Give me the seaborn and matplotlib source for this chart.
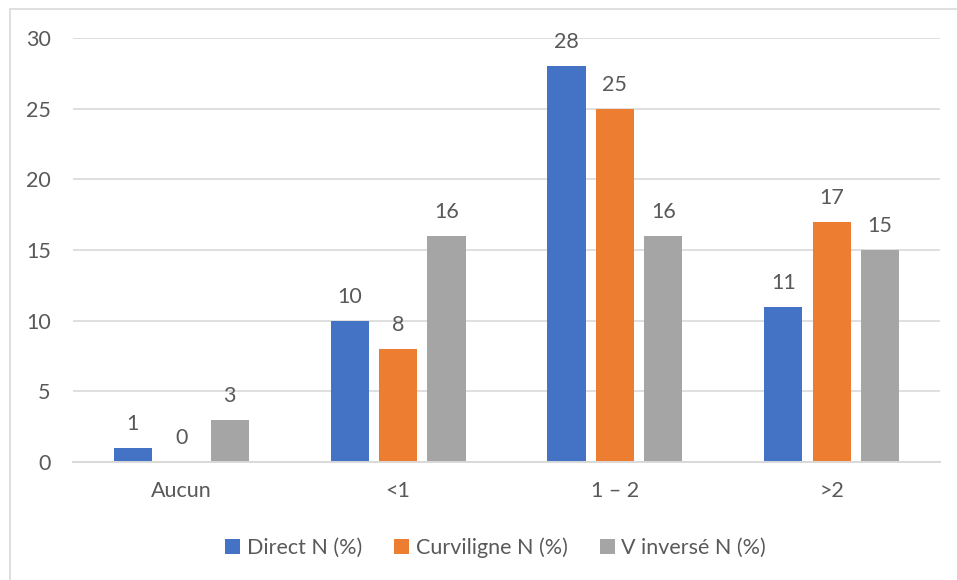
import matplotlib
matplotlib.use("Agg")
import matplotlib.pyplot as plt
from matplotlib.lines import Line2D
import seaborn as sns
import pandas as pd

# Groups on the x axis and the three series
categories = ["Aucun", "<1", "1 – 2", ">2"]
series_names = ["Direct N (%)", "Curviligne N (%)", "V inversé N (%)"]
direct = [1, 10, 28, 11]
curviligne = [0, 8, 25, 17]
v_inverse = [3, 16, 16, 15]
y_ticks = [0, 5, 10, 15, 20, 25, 30]

colors = ["#4472C4", "#ED7D31", "#A5A5A5"]
text_color = "#595959"
grid_color = "#D9D9D9"
font_size = 15.5

df = pd.DataFrame({
    "categorie": categories * 3,
    "serie": [series_names[0]] * 4 + [series_names[1]] * 4 + [series_names[2]] * 4,
    "valeur": direct + curviligne + v_inverse,
})

sns.set_theme(style="white")
plt.rcParams["font.family"] = ["Lato", "DejaVu Sans"]

fig = plt.figure(figsize=(9.57, 5.8), dpi=100)
ax = fig.add_axes([73 / 957, 1 - 462 / 580, (940 - 73) / 957, (462 - 38) / 580])

sns.barplot(
    data=df, x="categorie", y="valeur", hue="serie",
    order=categories, hue_order=series_names,
    palette=colors, saturation=1, width=0.67, gap=0.21,
    linewidth=0, ax=ax, legend=True,
)

ax.set_ylim(0, 30)
ax.set_xlim(-0.5, len(categories) - 0.5)
ax.set_yticks(y_ticks)
ax.set_yticklabels([str(t) for t in y_ticks])
ax.set_xlabel("")
ax.set_ylabel("")

ax.grid(axis="y", color=grid_color, linewidth=1.2)
ax.set_axisbelow(True)
for side in ["top", "right", "left"]:
    ax.spines[side].set_visible(False)
ax.spines["bottom"].set_color(grid_color)
ax.spines["bottom"].set_linewidth(1.4)

ax.tick_params(axis="y", length=0, pad=16, labelsize=font_size, labelcolor=text_color)
ax.tick_params(axis="x", length=0, pad=14, labelsize=font_size, labelcolor=text_color)

for container in ax.containers:
    ax.bar_label(container, fmt="%d", padding=10, fontsize=font_size, color=text_color)

ax.legend(
    loc="center", bbox_to_anchor=(0.518, (580 - 548) / 580), bbox_transform=fig.transFigure,
    ncol=3, frameon=False, fontsize=font_size, labelcolor=text_color,
    handlelength=0.7, handleheight=0.7, handletextpad=0.3, columnspacing=1.5,
)

# Light frame along the top and left edges of the figure
fig.add_artist(Line2D([10 / 957, 1.0], [1 - 9 / 580, 1 - 9 / 580],
                      transform=fig.transFigure, color=grid_color, linewidth=1.2))
fig.add_artist(Line2D([10 / 957, 10 / 957], [0.0, 1 - 9 / 580],
                      transform=fig.transFigure, color=grid_color, linewidth=1.2))

fig.savefig("out.png", dpi=100)
